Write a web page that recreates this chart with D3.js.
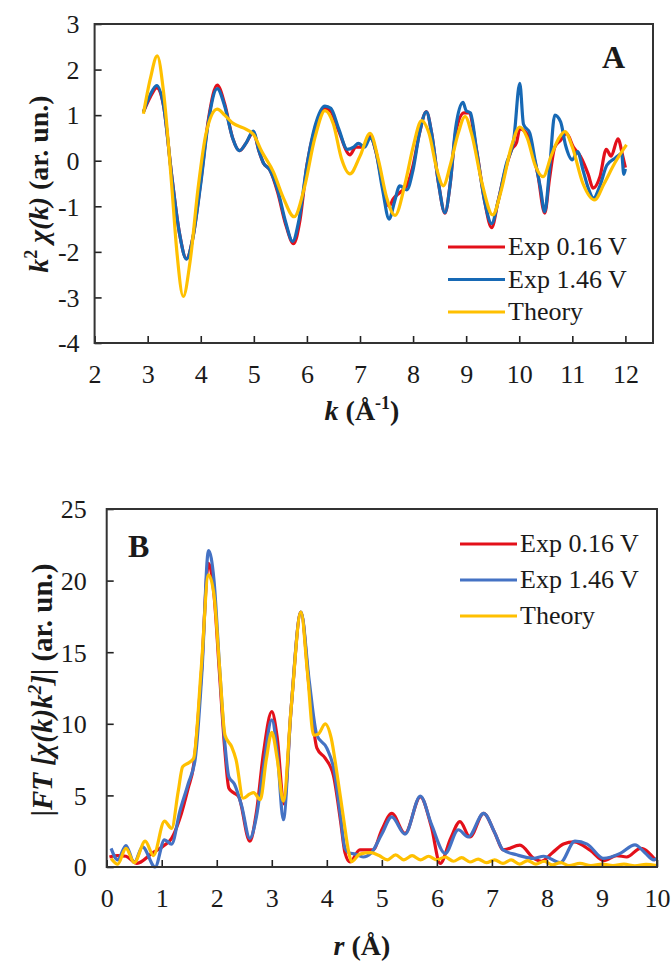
<!DOCTYPE html>
<html>
<head>
<meta charset="utf-8">
<script src="https://cdn.jsdelivr.net/npm/d3@7"></script>
<style>
  body { margin: 0; background: #fff; }
  text { font-family: "Liberation Serif", "Times New Roman", serif; fill: #1a1a1a; }
</style>
</head>
<body>
<svg id="chart" width="671" height="962"></svg>
<script>
// ---- panel A : k^2 chi(k) ----
var kTicks = [2, 3, 4, 5, 6, 7, 8, 9, 10, 11, 12];
var chiTicks = [-4, -3, -2, -1, 0, 1, 2, 3];

var kRed = [2.92, 3.05, 3.17, 3.3, 3.45, 3.6, 3.73, 3.85, 4.0, 4.15, 4.31, 4.45, 4.6, 4.73, 4.85, 4.99, 5.1, 5.18, 5.3, 5.45, 5.6, 5.75, 5.87, 6.0, 6.15, 6.34, 6.45, 6.6, 6.81, 6.92, 7.05, 7.19, 7.3, 7.42, 7.55, 7.62, 7.75, 7.88, 8.0, 8.12, 8.25, 8.35, 8.48, 8.6, 8.7, 8.8, 8.96, 9.05, 9.2, 9.35, 9.48, 9.6, 9.75, 9.86, 9.95, 10.01, 10.14, 10.25, 10.35, 10.48, 10.57, 10.67, 10.78, 10.89, 11.02, 11.15, 11.3, 11.39, 11.52, 11.64, 11.73, 11.86, 11.95, 12.0];
var chiRed = [1.07, 1.4, 1.6, 1.2, -0.3, -1.6, -2.15, -1.7, -0.45, 0.95, 1.66, 1.25, 0.5, 0.22, 0.38, 0.62, 0.2, -0.05, -0.2, -0.7, -1.4, -1.82, -1.3, -0.1, 0.7, 1.15, 1.08, 0.65, 0.13, 0.3, 0.3, 0.55, 0.2, -0.5, -1.0, -0.85, -0.7, -0.55, -0.1, 0.6, 1.08, 0.6, -0.5, -1.15, -0.5, 0.6, 1.05, 1.05, 0.2, -0.9, -1.47, -0.9, -0.15, 0.25, 0.4, 0.7, 0.6, 0.2, -0.3, -1.15, -0.4, 0.3, 0.45, 0.6, 0.3, 0.1, -0.3, -0.6, -0.35, 0.25, 0.1, 0.48, 0.1, -0.15];

var kBlue = [2.92, 3.05, 3.17, 3.3, 3.45, 3.6, 3.73, 3.85, 4.0, 4.15, 4.31, 4.45, 4.6, 4.73, 4.85, 4.99, 5.1, 5.18, 5.3, 5.45, 5.6, 5.73, 5.85, 6.0, 6.15, 6.34, 6.45, 6.6, 6.76, 6.88, 6.97, 7.09, 7.19, 7.3, 7.42, 7.55, 7.65, 7.75, 7.88, 8.0, 8.12, 8.25, 8.35, 8.48, 8.6, 8.7, 8.8, 8.94, 9.0, 9.08, 9.2, 9.35, 9.48, 9.6, 9.75, 9.9, 10.01, 10.08, 10.2, 10.3, 10.4, 10.48, 10.57, 10.67, 10.78, 10.87, 11.0, 11.1, 11.2, 11.3, 11.4, 11.52, 11.65, 11.8, 11.93, 11.97, 12.0];
var chiBlue = [1.07, 1.45, 1.65, 1.2, -0.3, -1.6, -2.16, -1.7, -0.5, 0.9, 1.58, 1.2, 0.5, 0.22, 0.38, 0.65, 0.2, -0.05, -0.2, -0.65, -1.35, -1.77, -1.3, -0.1, 0.75, 1.2, 1.15, 0.7, 0.25, 0.3, 0.38, 0.3, 0.5, 0.2, -0.6, -1.28, -0.9, -0.55, -0.64, -0.2, 0.6, 1.07, 0.6, -0.5, -1.14, -0.5, 0.7, 1.28, 1.1, 1.05, 0.2, -0.9, -1.38, -0.9, -0.1, 0.5, 1.7, 0.8, 0.6, 0.0, -0.6, -1.12, -0.2, 1.0, 0.85, 0.35, 0.02, 0.2, -0.2, -0.6, -0.82, -0.55, -0.1, 0.05, 0.15, -0.3, -0.18];

var kTheory = [2.92, 3.05, 3.18, 3.3, 3.45, 3.55, 3.67, 3.8, 3.95, 4.1, 4.31, 4.45, 4.61, 4.8, 4.99, 5.15, 5.37, 5.55, 5.76, 5.95, 6.15, 6.34, 6.5, 6.65, 6.81, 7.0, 7.19, 7.35, 7.5, 7.66, 7.85, 8.0, 8.16, 8.3, 8.45, 8.57, 8.7, 8.85, 8.98, 9.1, 9.3, 9.5, 9.65, 9.85, 10.01, 10.15, 10.3, 10.45, 10.6, 10.75, 10.86, 11.0, 11.2, 11.42, 11.6, 11.8, 12.02];
var chiTheory = [1.03, 1.8, 2.3, 1.5, -0.5, -2.0, -2.98, -2.2, -0.6, 0.6, 1.13, 1.0, 0.82, 0.72, 0.58, 0.2, -0.25, -0.8, -1.23, -0.6, 0.5, 1.1, 0.8, 0.05, -0.29, 0.1, 0.6, 0.0, -0.8, -1.2, -0.5, 0.3, 0.88, 0.6, -0.2, -0.55, -0.1, 0.6, 0.97, 0.6, -0.5, -1.19, -0.7, 0.3, 0.74, 0.5, -0.1, -0.35, 0.1, 0.5, 0.64, 0.3, -0.5, -0.86, -0.5, -0.05, 0.35];

// ---- panel B : |FT| ----
var rTicks = [0, 1, 2, 3, 4, 5, 6, 7, 8, 9, 10];
var ftTicks = [0, 5, 10, 15, 20, 25];

var rRed = [0.05, 0.2, 0.35, 0.55, 0.82, 1.06, 1.18, 1.33, 1.48, 1.58, 1.72, 1.85, 1.95, 2.05, 2.15, 2.22, 2.3, 2.4, 2.6, 2.72, 2.85, 3.0, 3.1, 3.22, 3.35, 3.53, 3.68, 3.82, 3.97, 4.12, 4.25, 4.33, 4.42, 4.6, 4.84, 5.0, 5.18, 5.42, 5.7, 5.9, 6.06, 6.25, 6.42, 6.6, 6.85, 7.05, 7.21, 7.51, 7.76, 7.9, 8.1, 8.3, 8.49, 8.79, 9.03, 9.27, 9.45, 9.7, 9.98];
var ftRed = [0.7, 0.8, 0.75, 0.26, 0.95, 1.55, 2.0, 3.4, 5.5, 7.1, 13.5, 21.2, 19, 13.5, 8, 5.5, 5.2, 4.9, 1.8, 3.8, 8, 10.85, 9, 4.4, 11, 17.8, 12.5, 8.3, 7.6, 6.4, 3.2, 1.0, 0.35, 1.2, 1.2, 2.6, 3.75, 2.35, 4.9, 2.8, 0.25, 2.0, 3.17, 2.1, 3.75, 2.4, 1.2, 1.53, 0.6, 0.4, 1.0, 1.6, 1.75, 1.15, 0.45, 0.8, 0.7, 1.3, 0.45];

var rBlue = [0.08, 0.2, 0.35, 0.5, 0.65, 0.88, 1.05, 1.18, 1.33, 1.48, 1.61, 1.73, 1.85, 1.95, 2.05, 2.15, 2.22, 2.32, 2.45, 2.6, 2.72, 2.85, 3.0, 3.1, 3.21, 3.35, 3.53, 3.68, 3.82, 4.0, 4.13, 4.25, 4.33, 4.4, 4.52, 4.66, 4.8, 5.0, 5.18, 5.42, 5.7, 5.9, 6.15, 6.39, 6.57, 6.85, 7.05, 7.2, 7.45, 7.76, 7.94, 8.24, 8.51, 8.73, 9.03, 9.33, 9.6, 9.78, 9.94, 10.0];
var ftBlue = [1.3, 0.5, 1.5, 0.3, 1.4, 0.0, 1.9, 1.6, 3.9, 5.8, 7.6, 13.6, 22.1, 20, 14, 8.5, 6.3, 5.8, 4.3, 2.0, 3.5, 7, 10.27, 8, 3.3, 11, 17.8, 13, 9.2, 8.3, 6.8, 3.5, 1.3, 1.0, 0.9, 0.7, 0.95, 2.3, 3.5, 2.3, 4.95, 3.0, 0.95, 2.6, 2.1, 3.75, 2.4, 1.2, 0.85, 0.6, 0.75, 0.3, 1.8, 1.6, 0.6, 0.95, 1.55, 1.0, 0.5, 0.6];

var rTheory = [0.08, 0.2, 0.35, 0.5, 0.7, 0.85, 1.05, 1.18, 1.3, 1.38, 1.5, 1.58, 1.72, 1.85, 1.95, 2.05, 2.15, 2.27, 2.35, 2.48, 2.6, 2.67, 2.79, 2.9, 3.0, 3.1, 3.21, 3.35, 3.53, 3.65, 3.76, 3.85, 3.97, 4.08, 4.18, 4.3, 4.4, 4.45, 4.6, 4.8, 4.95, 5.1, 5.25, 5.4, 5.55, 5.7, 5.85, 6.0, 6.15, 6.3, 6.45, 6.6, 6.75, 6.9, 7.05, 7.2, 7.35, 7.5, 7.65, 7.8, 7.95, 8.1, 8.25, 8.4, 8.6, 8.8, 9.0, 9.2, 9.4, 9.6, 9.8, 10.0];
var ftTheory = [0.6, 0.2, 1.3, 0.3, 1.8, 0.8, 3.2, 2.7, 5.3, 7.0, 7.3, 7.6, 14, 20.4, 19, 14, 9.2, 8.4, 7.5, 4.8, 5.1, 5.2, 4.7, 7.5, 9.4, 7.5, 4.6, 11, 17.8, 13.5, 9.2, 9.3, 10.0, 9.0, 6.65, 3.5, 1.0, 0.37, 0.9, 1.0, 0.8, 0.5, 0.85, 0.5, 0.8, 0.5, 0.75, 0.5, 0.7, 0.4, 0.65, 0.35, 0.55, 0.3, 0.5, 0.25, 0.5, 0.2, 0.45, 0.2, 0.4, 0.15, 0.3, 0.1, 0.25, 0.1, 0.2, 0.1, 0.2, 0.08, 0.18, 0.1];

var labels = ["Exp 0.16 V", "Exp 1.46 V", "Theory"];

var svg = d3.select("#chart");

function zip(xs, ys) {
  return xs.map(function (x, i) { return [x, ys[i]]; });
}

function drawPanel(p) {
  var x = d3.scaleLinear().domain(p.xDomain).range([p.left, p.right]);
  var y = d3.scaleLinear().domain(p.yDomain).range([p.bottom, p.top]);
  var g = svg.append("g");

  var line = d3.line()
    .x(function (d) { return x(d[0]); })
    .y(function (d) { return y(d[1]); })
    .curve(d3.curveMonotoneX);

  p.series.forEach(function (s) {
    g.append("path")
      .attr("d", line(zip(s.x, s.y)))
      .attr("fill", "none")
      .attr("stroke", s.color)
      .attr("stroke-width", 3.2)
      .attr("stroke-linejoin", "round");
  });

  // axes, ticks pointing inward; plain hyphen for negatives like the original
  var fmt = function (d) { return String(d); };
  var xAxis = g.append("g")
    .attr("transform", "translate(0," + p.bottom + ")")
    .call(d3.axisBottom(x).tickValues(p.xTicks).tickSize(-7).tickPadding(p.xPad).tickFormat(fmt));
  var yAxis = g.append("g")
    .attr("transform", "translate(" + p.left + ",0)")
    .call(d3.axisLeft(y).tickValues(p.yTicks).tickSize(-7).tickPadding(p.yPad).tickFormat(fmt));
  [xAxis, yAxis].forEach(function (a) {
    a.select(".domain").remove();
    a.selectAll("line").attr("stroke", "#222").attr("stroke-width", 1.6);
    a.selectAll("text").attr("font-size", 26).attr("fill", "#1a1a1a")
      .style("font-family", "'Liberation Serif', serif");
  });
  yAxis.selectAll("text").attr("dy", "0.34em");
  xAxis.selectAll("text").attr("dy", "0.72em");

  g.append("rect")
    .attr("x", p.left).attr("y", p.top)
    .attr("width", p.right - p.left).attr("height", p.bottom - p.top)
    .attr("fill", "none").attr("stroke", "#333").attr("stroke-width", 2);

  // legend
  p.series.forEach(function (s, i) {
    var ly = p.legendY + i * p.legendGap;
    g.append("line")
      .attr("x1", p.legendX).attr("x2", p.legendX + 57)
      .attr("y1", ly).attr("y2", ly)
      .attr("stroke", s.color).attr("stroke-width", 3.2);
    g.append("text")
      .attr("x", p.legendX + 60).attr("y", ly + 8)
      .attr("font-size", 26)
      .text(labels[i]);
  });

  g.append("text")
    .attr("x", p.tagX).attr("y", p.tagY)
    .attr("font-size", 32).attr("font-weight", "bold")
    .text(p.tag);
}

var red = "#e3101a", blueA = "#1769b5", blueB = "#4472c4", gold = "#ffc000";

drawPanel({
  xDomain: [2, 12.52], yDomain: [-4, 3],
  left: 94.6, right: 653, top: 24, bottom: 343,
  xTicks: kTicks, yTicks: chiTicks, xPad: 21, yPad: 15,
  series: [
    { x: kRed, y: chiRed, color: red },
    { x: kBlue, y: chiBlue, color: blueA },
    { x: kTheory, y: chiTheory, color: gold }
  ],
  legendX: 448, legendY: 247, legendGap: 32.5,
  tag: "A", tagX: 602, tagY: 68
});

drawPanel({
  xDomain: [0, 10], yDomain: [0, 25],
  left: 106.7, right: 657, top: 509, bottom: 867,
  xTicks: rTicks, yTicks: ftTicks, xPad: 21, yPad: 20,
  series: [
    { x: rRed, y: ftRed, color: red },
    { x: rBlue, y: ftBlue, color: blueB },
    { x: rTheory, y: ftTheory, color: gold }
  ],
  legendX: 460, legendY: 544, legendGap: 36,
  tag: "B", tagX: 128, tagY: 557
});

// axis titles
var tA = svg.append("text")
  .attr("transform", "translate(48,184) rotate(-90)")
  .attr("text-anchor", "middle").attr("font-size", 28).attr("font-weight", "bold");
tA.append("tspan").attr("font-style", "italic").text("k");
tA.append("tspan").attr("font-size", 18).attr("dy", -11).text("2");
tA.append("tspan").attr("dy", 11).text(" ");
tA.append("tspan").attr("font-style", "italic").text("χ(k)");
tA.append("tspan").text(" (ar. un.)");

var xA = svg.append("text")
  .attr("x", 362).attr("y", 420)
  .attr("text-anchor", "middle").attr("font-size", 28).attr("font-weight", "bold");
xA.append("tspan").attr("font-style", "italic").text("k");
xA.append("tspan").text(" (Å");
xA.append("tspan").attr("font-size", 18).attr("dy", -11).text("-1");
xA.append("tspan").attr("dy", 11).text(")");

var tB = svg.append("text")
  .attr("transform", "translate(52,690) rotate(-90)")
  .attr("text-anchor", "middle").attr("font-size", 29).attr("font-weight", "bold");
tB.append("tspan").text("|");
tB.append("tspan").attr("font-style", "italic").text("FT [χ(k)k");
tB.append("tspan").attr("font-style", "italic").attr("font-size", 19).attr("dy", -11).text("2");
tB.append("tspan").attr("font-style", "italic").attr("dy", 11).text("]");
tB.append("tspan").text("| (ar. un.)");

var xB = svg.append("text")
  .attr("x", 362).attr("y", 955)
  .attr("text-anchor", "middle").attr("font-size", 28).attr("font-weight", "bold");
xB.append("tspan").attr("font-style", "italic").text("r");
xB.append("tspan").text(" (Å)");
</script>
</body>
</html>
